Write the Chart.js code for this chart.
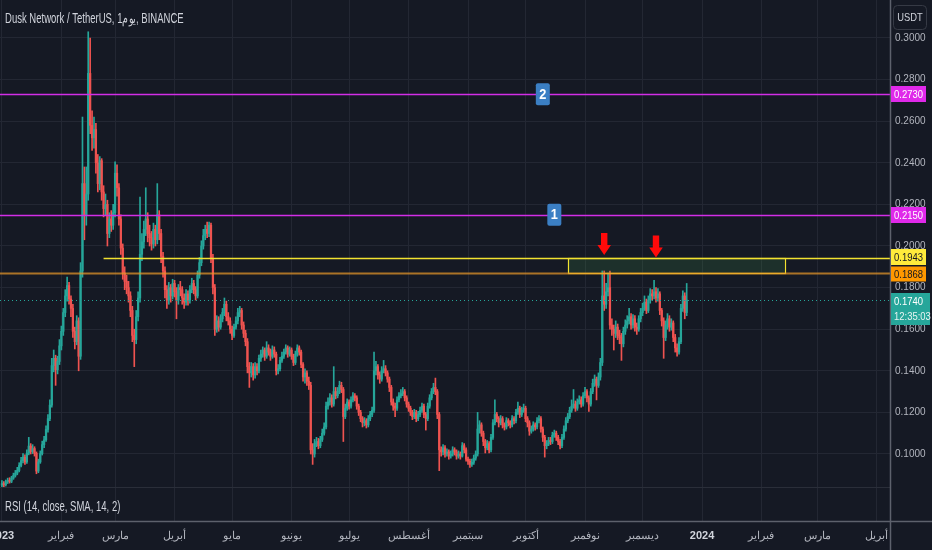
<!DOCTYPE html>
<html lang="en">
<head>
<meta charset="UTF-8">
<title>Dusk Network / TetherUS</title>
<script src="https://cdn.jsdelivr.net/npm/chart.js"></script>
<style>
  * { margin: 0; padding: 0; }
  body { background: #151924; width: 932px; height: 550px; overflow: hidden; }
  canvas { display: block; }
</style>
</head>
<body>
<canvas id="chart" width="932" height="550"></canvas>
<script>
// daily candles, day 0 = 2023-01-01, prices in USDT x 10000
const opens = [
  850,858,852,866,872,869,884,897,908,921, 945,968,985,962,1004,1038,1012,1026,1003,918,
  962,1002,1045,1068,1118,1170,1235,1425,1460,1405, 1445,1520,1590,1680,1760,1810,1745,1700,1590,1540,
  1640,1470,1880,2300,2150,2250,2830,2580,2520,2560, 2400,2300,2410,2260,2180,2200,2060,2130,2100,2160,
  2350,2280,2130,1990,1870,1830,1800,1760,1690,1570, 1550,1660,1750,1960,2020,2080,2130,2060,2040,2010,
  2080,2030,2150,2060,1950,1880,1790,1740,1800,1760, 1820,1780,1740,1800,1790,1750,1730,1770,1740,1790,
  1820,1790,1760,1860,1920,2000,2050,2080,2060,2100, 1940,1800,1600,1640,1610,1650,1680,1720,1660,1640,
  1600,1570,1610,1640,1680,1690,1620,1580,1540,1420, 1390,1420,1380,1420,1400,1460,1480,1500,1470,1510,
  1490,1470,1500,1480,1400,1410,1450,1470,1490,1510, 1480,1500,1470,1440,1480,1510,1490,1430,1370,1390,
  1350,1330,1020,1000,1050,1060,1040,1070,1100,1130, 1230,1250,1270,1240,1300,1280,1300,1330,1310,1180,
  1220,1250,1230,1260,1280,1270,1230,1200,1170,1150, 1160,1140,1170,1190,1210,1400,1420,1380,1360,1400,
  1410,1390,1360,1320,1250,1230,1220,1260,1280,1290, 1300,1270,1240,1220,1200,1180,1200,1170,1190,1210,
  1230,1190,1170,1230,1270,1300,1320,1300,1190,1020, 1010,1030,1000,1010,990,1000,1020,1010,990,1000,
  990,1040,1020,975,965,950,960,980,1000,1120, 1140,1100,1060,1030,1050,1020,1080,1150,1190,1170,
  1150,1170,1140,1130,1160,1150,1140,1170,1160,1200, 1220,1190,1210,1220,1170,1150,1110,1120,1140,1130,
  1160,1170,1120,1080,1040,1050,1065,1060,1090,1100, 1080,1060,1040,1080,1120,1160,1180,1210,1230,1240,
  1220,1250,1260,1240,1280,1300,1270,1240,1300,1340, 1360,1330,1370,1440,1760,1720,1780,1800,1620,1600,
  1580,1610,1570,1560,1530,1590,1620,1640,1660,1620, 1650,1610,1600,1650,1680,1700,1730,1690,1740,1770,
  1760,1780,1750,1770,1690,1640,1560,1620,1650,1610, 1630,1560,1510,1490,1540,1700,1760,1680
];
const highs = [
  872,868,875,884,886,893,908,921,936,958, 984,1002,996,1020,1080,1050,1045,1035,1010,975,
  1015,1062,1085,1135,1190,1260,1460,1500,1475,1470, 1550,1615,1700,1790,1850,1825,1760,1720,1610,1665,
  1655,1920,2620,2380,2380,3030,3000,2650,2620,2590, 2440,2430,2420,2290,2250,2220,2160,2170,2200,2405,
  2390,2300,2150,2010,1900,1860,1830,1780,1710,1600, 1690,1780,2235,2060,2120,2280,2160,2100,2070,2110,
  2100,2300,2170,2080,1970,1900,1810,1825,1815,1840, 1835,1800,1815,1830,1805,1770,1790,1785,1810,1845,
  1835,1805,1880,1945,2025,2080,2100,2115,2115,2110, 1960,1815,1665,1660,1670,1700,1750,1735,1680,1655,
  1615,1625,1660,1700,1710,1700,1635,1595,1555,1440, 1440,1435,1440,1435,1475,1500,1515,1510,1540,1525,
  1505,1520,1515,1490,1430,1465,1490,1505,1525,1520, 1515,1510,1480,1495,1525,1520,1500,1440,1410,1400,
  1370,1345,1050,1070,1080,1075,1085,1120,1150,1250, 1270,1290,1285,1420,1320,1320,1350,1345,1320,1240,
  1265,1260,1275,1295,1290,1280,1240,1210,1180,1175, 1170,1185,1205,1225,1490,1445,1430,1395,1420,1450,
  1425,1400,1370,1330,1265,1245,1275,1295,1310,1320, 1310,1280,1250,1230,1210,1215,1210,1205,1225,1245,
  1240,1200,1245,1285,1315,1340,1365,1310,1200,1035, 1045,1040,1025,1020,1015,1035,1030,1020,1015,1010,
  1055,1050,1030,985,975,975,995,1015,1200,1160, 1150,1110,1070,1065,1060,1095,1165,1260,1200,1180,
  1185,1180,1150,1175,1170,1160,1185,1180,1215,1250, 1230,1225,1240,1230,1180,1160,1135,1155,1150,1175,
  1185,1180,1130,1090,1065,1080,1080,1105,1115,1110, 1090,1070,1095,1135,1175,1195,1225,1260,1310,1255,
  1265,1280,1275,1295,1320,1310,1280,1315,1360,1380, 1370,1390,1460,1880,1880,1820,1870,1880,1650,1620,
  1640,1625,1595,1580,1610,1645,1665,1700,1675,1670, 1665,1630,1665,1700,1725,1760,1745,1760,1795,1790,
  1835,1800,1795,1780,1700,1655,1640,1675,1665,1650, 1640,1575,1530,1560,1720,1785,1775,1820
];
const lows = [
  842,840,846,858,860,862,878,889,900,914, 938,957,950,955,996,1000,1002,990,905,910,
  955,995,1030,1060,1105,1160,1225,1395,1330,1385, 1430,1500,1570,1660,1735,1720,1660,1560,1505,1525,
  1400,1455,1850,2030,2100,2220,2540,2460,2470,2350, 2260,2270,2220,2140,2150,2000,2040,2070,2080,2140,
  2240,2100,1960,1840,1790,1770,1730,1660,1540,1420, 1530,1640,1730,1930,1990,2050,2020,2000,1980,1990,
  2000,2010,2030,1920,1850,1750,1700,1720,1730,1745, 1755,1650,1720,1760,1720,1700,1715,1715,1725,1775,
  1770,1740,1750,1845,1905,1985,2030,2040,2045,1920, 1770,1570,1585,1590,1600,1635,1665,1640,1620,1580,
  1550,1560,1600,1625,1660,1600,1560,1520,1390,1320, 1370,1355,1365,1380,1390,1445,1465,1450,1460,1475,
  1450,1460,1465,1380,1385,1400,1440,1460,1480,1465, 1470,1455,1425,1430,1470,1475,1415,1350,1340,1330,
  1310,1000,950,985,1035,1025,1030,1060,1090,1120, 1215,1235,1225,1230,1265,1270,1290,1295,1060,1170,
  1210,1215,1220,1250,1255,1215,1185,1155,1130,1135, 1125,1130,1160,1180,1200,1380,1360,1340,1350,1390,
  1375,1345,1300,1235,1210,1180,1210,1250,1270,1280, 1255,1225,1205,1185,1165,1170,1155,1160,1180,1200,
  1175,1115,1160,1220,1260,1290,1285,1170,920,990, 995,985,990,975,980,990,995,975,980,975,
  985,1005,965,950,935,940,950,970,990,1100, 1085,1040,1005,1020,1005,1010,1070,1140,1155,1130,
  1140,1125,1115,1120,1135,1125,1130,1145,1150,1190, 1175,1180,1200,1155,1130,1090,1100,1110,1115,1120,
  1150,1105,1060,985,1025,1040,1045,1050,1080,1065, 1045,1025,1030,1070,1110,1150,1170,1200,1220,1205,
  1210,1240,1225,1230,1270,1250,1205,1230,1290,1325, 1260,1320,1355,1425,1690,1700,1760,1600,1570,1500,
  1560,1550,1530,1450,1515,1575,1605,1625,1600,1605, 1590,1575,1590,1635,1665,1690,1675,1680,1725,1740,
  1745,1730,1735,1670,1615,1460,1545,1600,1590,1595, 1540,1490,1470,1480,1530,1685,1650,1665
];
const closes = [
  858,852,866,872,869,884,897,908,921,945, 968,985,962,1004,1038,1012,1026,1003,918,962,
  1002,1045,1068,1118,1170,1235,1425,1460,1405,1445, 1520,1590,1680,1760,1810,1745,1700,1590,1540,1640,
  1470,1880,2300,2150,2250,2830,2580,2520,2560,2400, 2300,2410,2260,2180,2200,2060,2130,2100,2160,2350,
  2280,2130,1990,1870,1830,1800,1760,1690,1570,1550, 1660,1750,1960,2020,2080,2130,2060,2040,2010,2080,
  2030,2150,2060,1950,1880,1790,1740,1800,1760,1820, 1780,1740,1800,1790,1750,1730,1770,1740,1790,1820,
  1790,1760,1860,1920,2000,2050,2080,2060,2100,1940, 1800,1600,1640,1610,1650,1680,1720,1660,1640,1600,
  1570,1610,1640,1680,1690,1620,1580,1540,1420,1390, 1420,1380,1420,1400,1460,1480,1500,1470,1510,1490,
  1470,1500,1480,1400,1410,1450,1470,1490,1510,1480, 1500,1470,1440,1480,1510,1490,1430,1370,1390,1350,
  1330,1020,1000,1050,1060,1040,1070,1100,1130,1230, 1250,1270,1240,1300,1280,1300,1330,1310,1180,1220,
  1250,1230,1260,1280,1270,1230,1200,1170,1150,1160, 1140,1170,1190,1210,1400,1420,1380,1360,1400,1410,
  1390,1360,1320,1250,1230,1220,1260,1280,1290,1300, 1270,1240,1220,1200,1180,1200,1170,1190,1210,1230,
  1190,1170,1230,1270,1300,1320,1300,1190,1020,1010, 1030,1000,1010,990,1000,1020,1010,990,1000,990,
  1040,1020,975,965,950,960,980,1000,1120,1140, 1100,1060,1030,1050,1020,1080,1150,1190,1170,1150,
  1170,1140,1130,1160,1150,1140,1170,1160,1200,1220, 1190,1210,1220,1170,1150,1110,1120,1140,1130,1160,
  1170,1120,1080,1040,1050,1065,1060,1090,1100,1080, 1060,1040,1080,1120,1160,1180,1210,1230,1240,1220,
  1250,1260,1240,1280,1300,1270,1240,1300,1340,1360, 1330,1370,1440,1760,1720,1780,1800,1620,1600,1580,
  1610,1570,1560,1530,1590,1620,1640,1660,1620,1650, 1610,1600,1650,1680,1700,1730,1690,1740,1770,1760,
  1780,1750,1770,1690,1640,1560,1620,1650,1610,1630, 1560,1510,1490,1540,1700,1760,1680,1740
];

// time axis: first day of each month, as day numbers from 2023-01-01
const tickDays = [0, 31, 59, 90, 120, 151, 181, 212, 243, 273, 304, 334, 365, 396, 425, 456];
const tickLabels = ['2023', 'فبراير', 'مارس', 'أبريل', 'مايو', 'يونيو', 'يوليو', 'أغسطس',
                    'سبتمبر', 'أكتوبر', 'نوفمبر', 'ديسمبر', '2024', 'فبراير', 'مارس', 'أبريل'];
const priceTicks = [0.10, 0.12, 0.14, 0.16, 0.18, 0.20, 0.22, 0.24, 0.26, 0.28, 0.30];

// drawn levels and marks
const levelPrices = [0.2730, 0.2150, 0.1943, 0.1868];
const lastPrice = 0.1740;
const countdown = '12:35:03';
const zoneDays = [295, 408];
const arrowDays = [314, 341];
const arrowTips = [0.1957, 0.1945];
const badgeDays = [282, 288];
const badgeText = ['2', '1'];
const yellowFromDay = 53;

const UP = '#26a69a', DOWN = '#ef5350', GRID = '#232733', BG = '#151924';
const MAGENTA = '#d22ee6';
const FONT = "'Liberation Sans', Arial, sans-serif";

const days = closes.map((_, i) => i);
const candleColors = days.map(i => closes[i] >= opens[i] ? UP : DOWN);

function squish(ctx, text, x, y, font, color, sx, align) {
  ctx.save();
  ctx.font = font;
  ctx.fillStyle = color;
  ctx.textBaseline = 'middle';
  ctx.textAlign = align || 'left';
  ctx.translate(x, y);
  ctx.scale(sx, 1);
  ctx.fillText(text, 0, 0);
  ctx.restore();
}

function hline(ctx, x1, x2, y, color, w, dash) {
  ctx.save();
  ctx.strokeStyle = color;
  ctx.lineWidth = w;
  if (dash) ctx.setLineDash(dash);
  ctx.beginPath();
  ctx.moveTo(x1, y);
  ctx.lineTo(x2, y);
  ctx.stroke();
  ctx.restore();
}

function axisTag(ctx, y, h, bg, fg, text) {
  ctx.fillStyle = bg;
  ctx.fillRect(891, y - h / 2, 35, h);
  squish(ctx, text, 894, y + 0.5, '11px ' + FONT, fg, 0.86);
}

const overlay = {
  id: 'overlay',
  beforeDraw(chart) {
    const ctx = chart.ctx;
    ctx.save();
    ctx.fillStyle = BG;
    ctx.fillRect(0, 0, chart.width, chart.height);
    ctx.restore();
  },
  afterDatasetsDraw(chart) {
    const ctx = chart.ctx, xs = chart.scales.x, ys = chart.scales.y;
    const right = chart.chartArea.right;
    const px = d => xs.getPixelForValue(d);
    const py = p => Math.round(ys.getPixelForValue(p)) + 0.5;

    // zone between the two lower levels
    const zx1 = px(zoneDays[0]), zx2 = px(zoneDays[1]);
    const zy1 = py(levelPrices[2]), zy2 = py(levelPrices[3]);
    ctx.save();
    ctx.fillStyle = 'rgba(76,175,80,0.16)';
    ctx.fillRect(zx1, zy1, zx2 - zx1, zy2 - zy1);
    ctx.strokeStyle = '#f2e230';
    ctx.lineWidth = 1.2;
    ctx.strokeRect(Math.round(zx1) + 0.5, zy1, Math.round(zx2 - zx1), zy2 - zy1);
    ctx.restore();

    hline(ctx, 0, right, py(levelPrices[0]), MAGENTA, 1.4);
    hline(ctx, 0, right, py(levelPrices[1]), MAGENTA, 1.4);
    hline(ctx, px(yellowFromDay), right, py(levelPrices[2]), '#f2e230', 1.3);
    hline(ctx, 0, right, py(levelPrices[3]), 'rgba(230,150,40,0.72)', 2);
    hline(ctx, 0, right, py(lastPrice), UP, 1, [1, 3]);

    // red arrows
    ctx.save();
    ctx.fillStyle = '#ff0a0a';
    arrowDays.forEach((d, i) => {
      const x = px(d), t = ys.getPixelForValue(arrowTips[i]);
      ctx.beginPath();
      ctx.moveTo(x - 3.2, t - 22);
      ctx.lineTo(x + 3.2, t - 22);
      ctx.lineTo(x + 3.2, t - 10);
      ctx.lineTo(x + 6.8, t - 10);
      ctx.lineTo(x, t);
      ctx.lineTo(x - 6.8, t - 10);
      ctx.lineTo(x - 3.2, t - 10);
      ctx.closePath();
      ctx.fill();
    });
    ctx.restore();

    // numbered badges on the two upper levels
    badgeDays.forEach((d, i) => {
      const x = px(d), y = ys.getPixelForValue(levelPrices[i]);
      ctx.save();
      ctx.fillStyle = '#3b7fc4';
      ctx.beginPath();
      ctx.roundRect(x - 7, y - 11, 14, 22, 2);
      ctx.fill();
      ctx.restore();
      squish(ctx, badgeText[i], x, y + 0.5, 'bold 15px ' + FONT, '#ffffff', 0.85, 'center');
    });
  },
  afterDraw(chart) {
    const ctx = chart.ctx, ys = chart.scales.y;
    const area = chart.chartArea;

    // pane separators
    hline(ctx, 0, area.right, 487.5, '#2a2e39', 1);
    hline(ctx, 0, chart.width, 521.5, '#5d616c', 1.5);
    ctx.save();
    ctx.strokeStyle = '#5d616c';
    ctx.lineWidth = 1.5;
    ctx.beginPath();
    ctx.moveTo(890.5, 0);
    ctx.lineTo(890.5, chart.height);
    ctx.stroke();
    ctx.restore();

    // price tags on the right scale
    const tagY = p => Math.round(ys.getPixelForValue(p));
    axisTag(ctx, tagY(levelPrices[0]), 16, '#e029ea', '#ffffff', levelPrices[0].toFixed(4));
    axisTag(ctx, tagY(levelPrices[1]), 16, '#e029ea', '#ffffff', levelPrices[1].toFixed(4));
    axisTag(ctx, tagY(levelPrices[2]) - 1, 16, '#ffeb3b', '#131722', levelPrices[2].toFixed(4));
    axisTag(ctx, tagY(levelPrices[3]) + 1, 15, '#ff9800', '#131722', levelPrices[3].toFixed(4));
    const ly = tagY(lastPrice);
    ctx.fillStyle = UP;
    ctx.fillRect(891, ly - 7, 39, 32);
    squish(ctx, lastPrice.toFixed(4), 894, ly + 1.5, '11px ' + FONT, '#ffffff', 0.86);
    squish(ctx, countdown, 894, ly + 17, '11px ' + FONT, '#e8f4f2', 0.86);

    // currency box
    ctx.save();
    ctx.strokeStyle = '#363a45';
    ctx.lineWidth = 1;
    ctx.beginPath();
    ctx.roundRect(893.5, 5.5, 33, 24, 4);
    ctx.stroke();
    ctx.restore();
    squish(ctx, 'USDT', 910, 18, '11px ' + FONT, '#d1d4dc', 0.85, 'center');

    // titles
    squish(ctx, 'Dusk Network / TetherUS, 1يوم, BINANCE', 5, 19, '14px ' + FONT, '#d1d4dc', 0.68);
    squish(ctx, 'RSI (14, close, SMA, 14, 2)', 5, 507, '14px ' + FONT, '#d1d4dc', 0.68);
  }
};

new Chart(document.getElementById('chart'), {
  type: 'bar',
  data: {
    datasets: [
      {
        data: days.map(i => ({ x: i, y: [lows[i] / 10000, highs[i] / 10000] })),
        backgroundColor: candleColors,
        barThickness: 1,
        grouped: false,
        order: 2
      },
      {
        data: days.map(i => ({ x: i, y: [opens[i] / 10000, closes[i] / 10000] })),
        backgroundColor: candleColors,
        barThickness: 1.6,
        minBarLength: 1,
        grouped: false,
        order: 1
      }
    ]
  },
  options: {
    responsive: false,
    animation: false,
    devicePixelRatio: 1,
    layout: { padding: 0 },
    plugins: { legend: { display: false }, tooltip: { enabled: false } },
    scales: {
      x: {
        type: 'linear',
        min: -1,
        max: 463,
        offset: false,
        grid: { color: GRID, offset: false, drawTicks: false },
        border: { display: false },
        afterBuildTicks: s => { s.ticks = tickDays.map(v => ({ value: v })); },
        afterFit: s => { s.height = 29; s.paddingLeft = 0; s.paddingRight = 0; },
        ticks: {
          autoSkip: false,
          maxRotation: 0,
          padding: 8,
          callback: v => tickLabels[tickDays.indexOf(v)],
          color: c => /^\d+$/.test(tickLabels[c.index]) ? '#d1d4dc' : '#b2b5be',
          font: c => ({ family: FONT, size: 11, weight: /^\d+$/.test(tickLabels[c.index]) ? 'bold' : 'normal' })
        }
      },
      y: {
        type: 'linear',
        position: 'right',
        min: 0.067788,
        max: 0.318269,
        grid: { color: GRID, drawTicks: false },
        border: { display: false },
        afterBuildTicks: s => { s.ticks = priceTicks.map(v => ({ value: v })); },
        afterFit: s => { s.width = 42; s.paddingTop = 0; s.paddingBottom = 0; },
        ticks: {
          padding: 5,
          color: '#b2b5be',
          font: { family: FONT, size: 10 },
          callback: v => v.toFixed(4)
        }
      }
    }
  },
  plugins: [overlay]
});
</script>
</body>
</html>
